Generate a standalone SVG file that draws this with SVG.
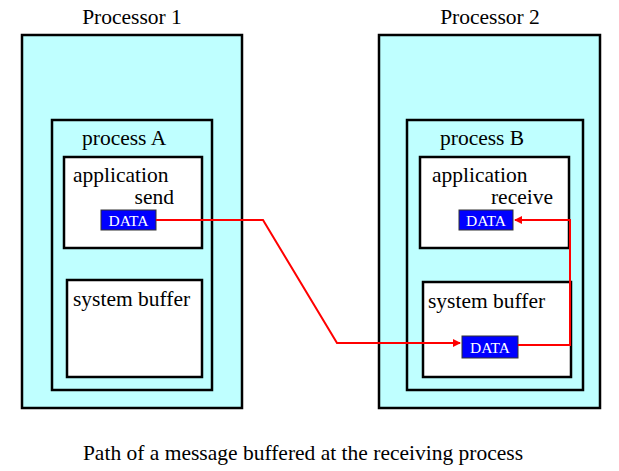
<svg xmlns="http://www.w3.org/2000/svg" width="619" height="471" viewBox="0 0 619 471">
<style>
.c{fill:#bfffff;stroke:#000;stroke-width:2.5}
.w{fill:#fff;stroke:#000;stroke-width:2.5}
.d{fill:#0000ff;stroke:#333;stroke-width:1}
text{font-family:"Liberation Serif",serif;font-size:21.5px;fill:#000}
.dt{font-size:15.5px;fill:#fff;text-anchor:middle}
.r{fill:none;stroke:#ff0000;stroke-width:2}
</style>
<defs><marker id="a" markerWidth="8" markerHeight="8" refX="7" refY="4" orient="auto" markerUnits="userSpaceOnUse"><path d="M0,0L8,4L0,8z" fill="#ff0000"/></marker></defs>
<rect width="619" height="471" fill="#fff"/>
<g id="p1">
<text x="132" y="24" text-anchor="middle">Processor 1</text>
<rect class="c" x="22" y="35" width="220" height="373"/>
</g>
<g id="pA">
<rect class="c" x="52" y="120" width="160" height="270"/>
<text x="82" y="145">process A</text>
</g>
<g id="appA">
<rect class="w" x="64" y="157" width="138" height="91"/>
<text x="73" y="182">application</text>
<text x="174" y="204" text-anchor="end">send</text>
</g>
<g id="d1"><rect class="d" x="101" y="210" width="55" height="20"/><text class="dt" x="128.5" y="226">DATA</text></g>
<g id="sbA">
<rect class="w" x="67" y="280" width="135" height="97"/>
<text x="73" y="306">system buffer</text>
</g>
<g id="p2">
<text x="490" y="24" text-anchor="middle">Processor 2</text>
<rect class="c" x="379" y="35" width="221" height="373"/>
</g>
<g id="pB">
<rect class="c" x="407" y="120" width="176" height="270"/>
<text x="440" y="145">process B</text>
</g>
<g id="appB">
<rect class="w" x="420" y="157" width="149" height="91"/>
<text x="432" y="182">application</text>
<text x="553" y="204" text-anchor="end">receive</text>
</g>
<g id="d2"><rect class="d" x="459" y="210" width="54" height="20"/><text class="dt" x="486" y="226">DATA</text></g>
<g id="sbB">
<rect class="w" x="423" y="282" width="148" height="95"/>
<text x="428" y="308">system buffer</text>
</g>
<g id="d3"><rect class="d" x="462" y="336" width="56" height="22"/><text class="dt" x="490" y="353">DATA</text></g>
<g id="connectors">
<path class="r" d="M156,220H263L337,343H460" marker-end="url(#a)"/>
<path class="r" d="M518,345H570V220H515" marker-end="url(#a)"/>
</g>
<text x="303" y="460" text-anchor="middle">Path of a message buffered at the receiving process</text>
</svg>
